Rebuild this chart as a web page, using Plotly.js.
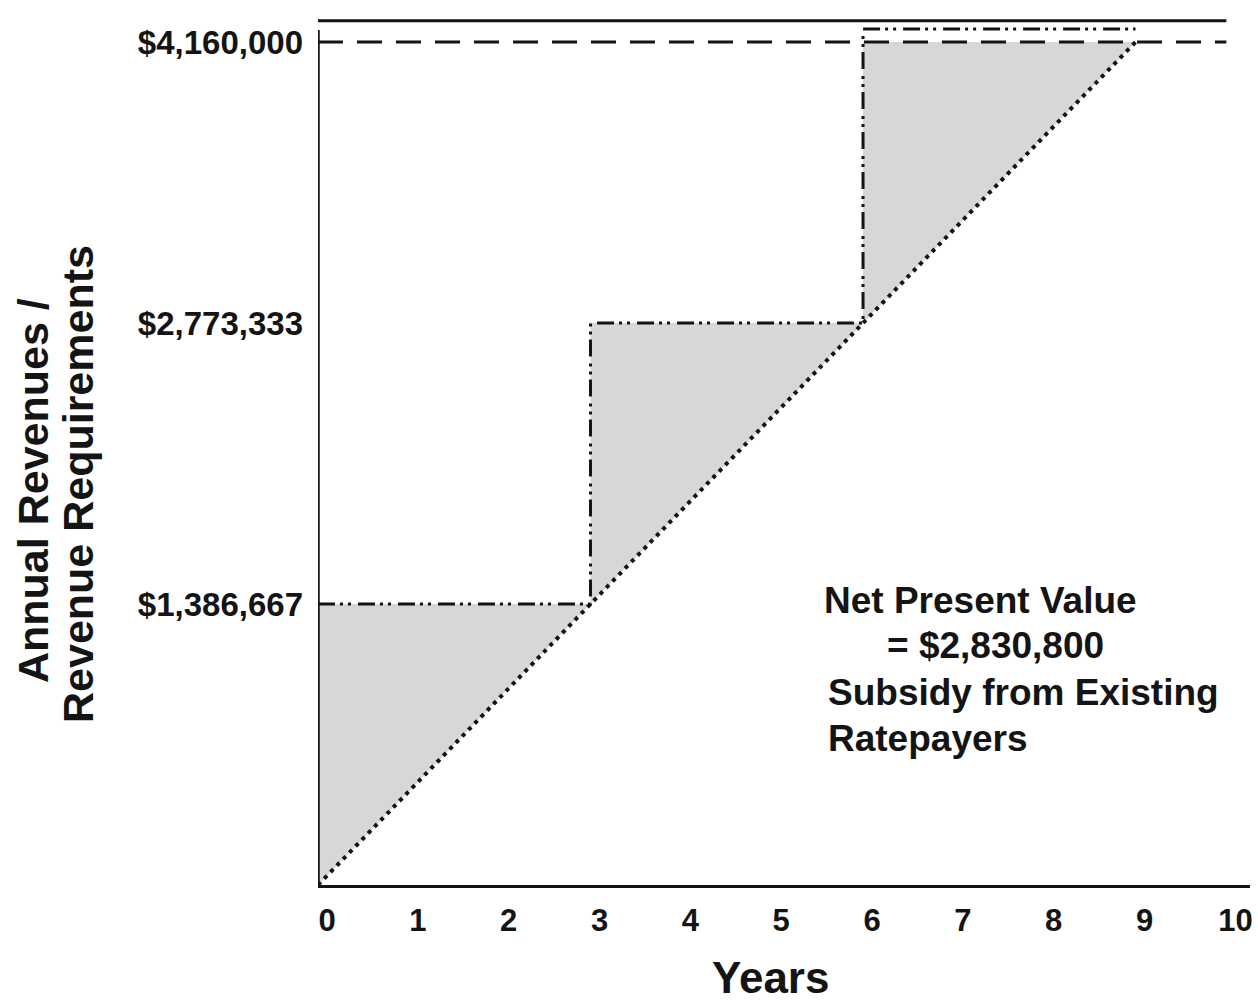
<!DOCTYPE html>
<html>
<head>
<meta charset="utf-8">
<script src="https://cdn.plot.ly/plotly-3.0.1.min.js"></script>
<style>
  html, body { margin: 0; padding: 0; background: #fff; }
  #chart { width: 1258px; height: 1001px; }
</style>
</head>
<body>
<div id="chart"></div>
<script>
// ---- data ----
const years = [0, 1, 2, 3, 4, 5, 6, 7, 8, 9, 10];
const yearLabels = ["0", "1", "2", "3", "4", "5", "6", "7", "8", "9", "10"];

// revenue requirement levels (stepped rates)
const stepYears  = [0, 3, 3, 6, 6, 9];
const stepValues = [1386667, 1386667, 2773333, 2773333, 4224000, 4224000];

// revenues growing with load (dotted diagonal)
const revYears  = [0, 9];
const revValues = [0, 4160000];

// shaded subsidy area (between steps and revenues)
const shadeYears  = [0, 0, 3, 3, 6, 6, 9, 0];
const shadeValues = [0, 1386667, 1386667, 2773333, 2773333, 4160000, 4160000, 0];

// full revenue level (dashed) and top solid line
const fullYears  = [0, 10];
const fullValues = [4160000, 4160000];
const topYears   = [0, 10];
const topValues  = [4265000, 4265000];

const yTickVals  = [1386667, 2773333, 4160000];
const yTickText  = ["$1,386,667", "$2,773,333", "$4,160,000"];

const noteLines = ["Net Present Value", "= $2,830,800", "Subsidy from Existing", "Ratepayers"];
const yTitleLines = ["Annual Revenues /", "Revenue Requirements"];
const xTitle = "Years";

// ---- drawing ----
const FONT = '"Liberation Sans", Arial, Helvetica, sans-serif';
const INK = '#141414';
const W = 1258, H = 1001, ML = 318, MR = 8, MT = 5, MB = 116;
const PW = W - ML - MR, PH = H - MT - MB;
const px = (x) => (x - ML) / PW;           // pixel -> paper x
const py = (y) => (H - MB - y) / PH;       // pixel -> paper y

const traces = [
  {
    x: shadeYears, y: shadeValues, type: 'scatter', mode: 'lines',
    fill: 'toself', fillcolor: '#d7d7d7',
    line: { width: 0, color: 'rgba(0,0,0,0)' }, hoverinfo: 'skip', showlegend: false
  },
  {
    x: topYears, y: topValues, type: 'scatter', mode: 'lines',
    line: { color: INK, width: 3 }, showlegend: false
  },
  {
    x: fullYears, y: fullValues, type: 'scatter', mode: 'lines',
    line: { color: INK, width: 3, dash: '25px,14px' }, showlegend: false
  },
  {
    x: stepYears, y: stepValues, type: 'scatter', mode: 'lines',
    line: { color: INK, width: 3, dash: '17px,5px,3px,5px,3px,7px' }, showlegend: false
  },
  {
    x: revYears, y: revValues, type: 'scatter', mode: 'lines',
    line: { color: INK, width: 4, dash: '4px,5px' }, showlegend: false
  }
];

// note block: line centres (pixels)
const noteX = [822, 885, 826, 826];
const noteY = [600, 645, 692, 738];
const noteAnns = noteLines.map((t, i) => ({
  xref: 'paper', yref: 'paper', x: px(noteX[i]), y: py(noteY[i]),
  xanchor: 'left', yanchor: 'middle', showarrow: false, text: t,
  font: { family: FONT, size: 37, color: INK, weight: 'bold' }
}));

const yTitleX = [33, 78];
const yTitleY = [491, 484];
const yTitleAnns = yTitleLines.map((t, i) => ({
  xref: 'paper', yref: 'paper', x: px(yTitleX[i]), y: py(yTitleY[i]),
  xanchor: 'center', yanchor: 'middle', textangle: -90, showarrow: false, text: t,
  font: { family: FONT, size: 43, color: INK, weight: 'bold' }
}));

const layout = {
  width: W, height: H,
  margin: { l: ML, r: MR, t: MT, b: MB },
  paper_bgcolor: '#fff', plot_bgcolor: '#fff',
  showlegend: false,
  font: { family: FONT, color: INK },
  xaxis: {
    range: [0, 10.26],
    tickvals: years, ticktext: yearLabels,
    showgrid: false, zeroline: false,
    showline: true, linecolor: INK, linewidth: 3,
    ticks: '', ticklabelstandoff: 6, ticklabelshift: 9,
    tickfont: { family: FONT, size: 31, color: INK, weight: 'bold' }
  },
  yaxis: {
    range: [0, 4343000],
    tickvals: yTickVals, ticktext: yTickText,
    showgrid: false, zeroline: false, showline: false,
    ticks: '', ticklabelstandoff: 14,
    tickfont: { family: FONT, size: 33, color: INK, weight: 'bold' }
  },
  shapes: [
    { type: 'line', xref: 'x', yref: 'y', x0: 0, x1: 0, y0: 0, y1: 4220000,
      line: { color: INK, width: 3.5 } }
  ],
  annotations: noteAnns.concat(yTitleAnns, [
    {
      xref: 'paper', yref: 'paper', x: px(770), y: py(977), xanchor: 'center', yanchor: 'middle',
      showarrow: false, text: xTitle,
      font: { family: FONT, size: 44, color: INK, weight: 'bold' }
    }
  ])
};

Plotly.newPlot('chart', traces, layout, { displayModeBar: false, staticPlot: true });
</script>
</body>
</html>
